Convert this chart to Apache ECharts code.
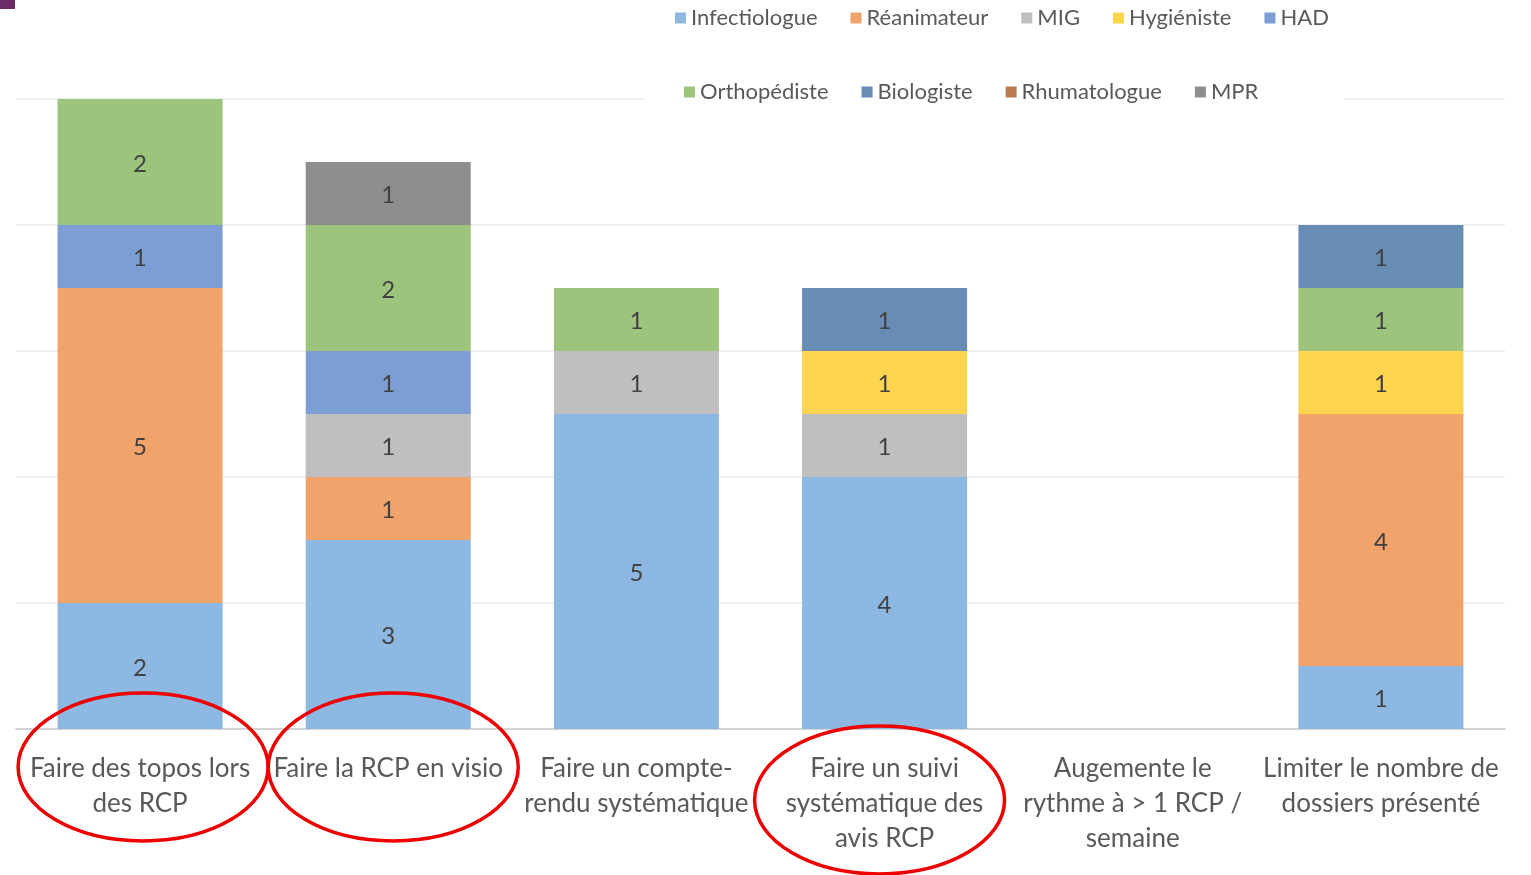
<!DOCTYPE html>
<html><head><meta charset="utf-8">
<script src="https://cdn.jsdelivr.net/npm/echarts@6/dist/echarts.min.js"></script>
<style>html,body{margin:0;padding:0;background:#fff}#c{width:1531px;height:875px}</style>
</head><body><div id="c"></div>
<script>
const categories = [
  "Faire des topos lors\ndes RCP",
  "Faire la RCP en visio",
  "Faire un compte-\nrendu systématique",
  "Faire un suivi\nsystématique des\navis RCP",
  "Augemente le\nrythme à > 1 RCP /\nsemaine",
  "Limiter le nombre de\ndossiers présenté"
];
const seriesNames = ["Infectiologue","Réanimateur","MIG","Hygiéniste","HAD","Orthopédiste","Biologiste","Rhumatologue","MPR"];
const infectiologue = [2, 3, 5, 4, null, 1];
const reanimateur   = [5, 1, null, null, null, 4];
const mig           = [null, 1, 1, 1, null, null];
const hygieniste    = [null, null, null, 1, null, 1];
const had           = [1, 1, null, null, null, null];
const orthopediste  = [2, 2, 1, null, null, 1];
const biologiste    = [null, null, null, 1, null, 1];
const rhumatologue  = [null, null, null, null, null, null];
const mpr           = [null, 1, null, null, null, null];
const seriesValues = [infectiologue, reanimateur, mig, hygieniste, had, orthopediste, biologiste, rhumatologue, mpr];
const colors = ["#8DB8E2","#F0A46C","#BFBFBF","#FFD44F","#7C9ED5","#9DC47D","#678DB4","#BA7B4F","#8E8E8E"];
const yTicks = [0, 2, 4, 6, 8, 10];

const FONT = "Lato";
const chart = echarts.init(document.getElementById('c'));
const legendText = { fontFamily: FONT, fontSize: 22, color: "#595959" };
const option = {
  animation: false,
  backgroundColor: "#fff",
  color: colors,
  legend: [
    {
      data: seriesNames.slice(0, 5),
      left: 675, top: 7, padding: 0,
      icon: "rect", itemWidth: 11, itemHeight: 11, itemGap: 33,
      textStyle: legendText
    },
    {
      data: seriesNames.slice(5),
      left: 684, top: 81, padding: 0,
      icon: "rect", itemWidth: 11, itemHeight: 11, itemGap: 33,
      textStyle: legendText
    }
  ],
  grid: { left: 16, right: 26, top: 99, bottom: 146, containLabel: false },
  xAxis: {
    type: "category",
    data: categories,
    axisTick: { show: false },
    axisLine: { lineStyle: { color: "#C9C9C9", width: 1.5 } },
    axisLabel: { interval: 0, margin: 22, fontFamily: FONT, fontSize: 26, lineHeight: 35, color: "#595959" }
  },
  yAxis: {
    type: "value", min: yTicks[0], max: yTicks[yTicks.length - 1], interval: 2,
    axisLabel: { show: false }, axisLine: { show: false }, axisTick: { show: false },
    splitLine: { lineStyle: { color: "#EBEBEB", width: 1.5 } }
  },
  series: seriesNames.map((n, i) => ({
    name: n, type: "bar", stack: "total", barWidth: "66.5%",
    data: seriesValues[i],
    itemStyle: { color: colors[i] },
    label: {
      show: true, position: "inside", offset: [0, 2], fontFamily: FONT, fontSize: 24, color: "#404040",
      formatter: p => (p.value ? String(p.value) : "")
    }
  }))
};
chart.setOption(option);

const baseY = chart.convertToPixel({ yAxisIndex: 0 }, 0);
const topY = chart.convertToPixel({ yAxisIndex: 0 }, yTicks[yTicks.length - 1]);
const rings = [ { cat: 0, dx: 3, dy: 38 }, { cat: 1, dx: 5, dy: 38 }, { cat: 3, dx: -5, dy: 71 } ];
const graphics = rings.map(r => {
  const cx = chart.convertToPixel({ xAxisIndex: 0 }, r.cat);
  return {
    type: "ellipse", z: 100,
    shape: { cx: cx + r.dx, cy: baseY + r.dy, rx: 125, ry: 74 },
    style: { fill: "none", stroke: "#EE0000", lineWidth: 3.5 }
  };
});
// white box behind the second legend row, hiding the top grid line there
graphics.push({ type: "rect", z: 1, shape: { x: 645, y: topY - 18, width: 700, height: 26 }, style: { fill: "#ffffff" } });
graphics.push({ type: "rect", z: 100, shape: { x: 0, y: 0, width: 15, height: 9 }, style: { fill: "#6B2D69" } });
chart.setOption({ graphic: graphics });
</script>
</body></html>
